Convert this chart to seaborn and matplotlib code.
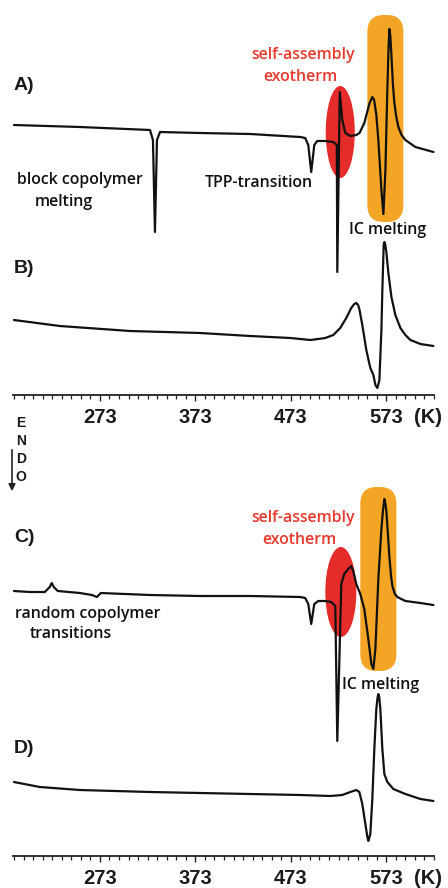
import numpy as np
import pandas as pd
import seaborn as sns
import matplotlib
matplotlib.use("Agg")
import matplotlib.pyplot as plt
from matplotlib.patches import Ellipse, FancyBboxPatch, FancyArrowPatch
from matplotlib.ticker import MultipleLocator, FixedLocator

# ---------------- data (temperature K, heat flow a.u.) ----------------
temp_A = [183, 252, 325.5, 328.6, 330.7, 332.8, 336, 378, 430.4, 482.9, 488.1, 491.3,
          494.4, 497.6, 500.7, 509.1, 517.5, 521.2, 521.7, 524.3, 526.9, 530.1, 535.3,
          541.6, 545, 550, 555.5, 558.4, 560.3, 562.6, 564.7, 567.9, 570, 572.1, 574.1,
          575.5, 576.2, 577.2, 578.4, 580, 581.5, 583.5, 585.7, 589, 593, 603.5, 622.4]
flow_A = [270, 268, 265, 255, 163, 255, 263, 262, 261, 258, 257, 250,
          223, 250, 254, 254, 253, 250, 123, 303, 275, 262, 259,
          260, 262, 272, 292, 298, 295, 280, 255, 205, 181, 225, 305,
          350, 366, 360, 340, 310, 292, 278, 268, 260, 255, 248, 243]

temp_B = [183, 231, 304.5, 378, 430.4, 472.4, 493.4, 501.8, 509.1, 517.5, 524.8, 531.1,
          536.3, 539.5, 541.6, 543.5, 544.8, 547.9, 552.1, 556.3, 559.5, 561.6, 563.7,
          565.8, 567.9, 568.9, 570.3, 571, 571.8, 573.1, 575.2, 578.4, 582.5, 587.8,
          593, 598.3, 608.8, 622.4]
flow_B = [75, 69, 64, 62, 59, 57, 55, 56, 57, 60, 67, 77,
          87, 91, 92, 90, 86, 70, 45, 27, 20, 10, 7,
          15, 65, 105, 150, 153, 151, 143, 122, 98, 80, 67,
          60, 55, 51, 49]

temp_C = [183, 199.5, 215.3, 220.5, 222.6, 224.7, 228.9, 252, 264.6, 269.9, 274, 325.5,
          378, 430.4, 482.9, 488.1, 491.3, 494.4, 497.6, 501.8, 509.1, 515.4, 519.6,
          521.7, 525.9, 529, 533.2, 536.3, 538.4, 541.6, 545.8, 550, 554.2, 557.4,
          559.5, 561.6, 564.7, 567.9, 569.5, 571, 572.2, 573.1, 574.5, 576.2, 578,
          579.4, 582, 584.6, 593, 608.8, 622.4]
flow_C = [265, 264, 264, 269, 273, 269, 265, 263, 261, 259, 263, 261,
          260, 260, 259, 258, 252, 232, 252, 255, 255, 254, 250,
          115, 272, 282, 287, 290, 285, 272, 262, 247, 217, 192,
          187, 207, 277, 327, 345, 357, 352, 345, 325, 300, 280,
          270, 262, 259, 255, 253, 251]

temp_D = [183, 210, 252, 325.5, 430.4, 482.9, 514.4, 526.9, 535.3, 541.6, 544.8, 547.9,
          551.1, 553.2, 554.2, 556.3, 558.4, 560.5, 562.6, 563.8, 564.7, 565.6, 566.8,
          568.9, 571, 574.1, 580.4, 593, 608.8, 622.4]
flow_D = [74, 69, 66, 64, 62, 61, 60, 61, 64, 66, 64, 52,
          32, 19, 15, 22, 57, 107, 147, 158, 162, 159, 147,
          107, 82, 74, 67, 62, 57, 55]

major_ticks = [273, 373, 473, 573]
tick_labels = ["273", "373", "473", "573"]

# ---------------- styling ----------------
sns.set_style("white")
plt.rcParams["font.family"] = ["Liberation Sans", "DejaVu Sans"]
ANN_FONT = ["Open Sans", "DejaVu Sans"]
RED = "#E62B2B"
RED_TXT = "#E8392E"
ORANGE = "#F5A526"
INK = "#111111"

fig = plt.figure(figsize=(4.48, 8.88), dpi=100)
W, H = 448.0, 888.0
ax_top = fig.add_axes([13 / W, 1 - 395 / H, 421 / W, 395 / H])
ax_bot = fig.add_axes([13 / W, 1 - 856 / H, 421 / W, 395 / H])

def setup(ax):
    ax.set_xlim(182, 623)
    ax.set_ylim(0, 395)
    for s in ["top", "left", "right"]:
        ax.spines[s].set_visible(False)
    ax.spines["bottom"].set_linewidth(1.3)
    ax.spines["bottom"].set_color("#222222")
    ax.set_yticks([])
    ax.xaxis.set_major_locator(FixedLocator(major_ticks))
    ax.set_xticklabels(tick_labels)
    ax.xaxis.set_minor_locator(MultipleLocator(10, offset=3))
    ax.tick_params(axis="x", which="major", direction="out", length=4, width=1.0,
                   color="#222222", pad=5, labelsize=14.5, bottom=True)
    ax.tick_params(axis="x", which="minor", direction="out", length=3, width=0.9,
                   color="#222222", bottom=True)
    for lab in ax.get_xticklabels():
        lab.set_fontweight("bold")
        lab.set_color("#1a1a1a")
    ax.patch.set_alpha(0)
    ax.annotate("(K)", xy=(617, 0), xycoords=("data", "axes fraction"),
                xytext=(0, -9), textcoords="offset points", ha="center", va="top",
                fontsize=14.5, fontweight="bold", color="#1a1a1a", annotation_clip=False)

setup(ax_top)
setup(ax_bot)

def draw_highlights(ax, ell_x, ell_y, ell_w, ell_h, rx0, rx1, ry0, ry1):
    ax.add_patch(Ellipse((ell_x, ell_y), ell_w, ell_h, facecolor=RED, edgecolor="none", zorder=1))
    ax.add_patch(FancyBboxPatch((rx0, ry0), rx1 - rx0, ry1 - ry0,
                                boxstyle="round,pad=0,rounding_size=17",
                                facecolor=ORANGE, edgecolor="none", zorder=1))

draw_highlights(ax_top, 524.8, 263, 30.4, 92, 553.2, 590.9, 173, 380)
draw_highlights(ax_bot, 525.4, 264, 32.5, 90, 545.8, 583.6, 185, 369)

def curve(ax, t, f):
    df = pd.DataFrame({"T": t, "Q": f})
    sns.lineplot(data=df, x="T", y="Q", ax=ax, sort=False, estimator=None,
                 color=INK, linewidth=1.6, zorder=3, clip_on=False)

curve(ax_top, temp_A, flow_A)
curve(ax_top, temp_B, flow_B)
curve(ax_bot, temp_C, flow_C)
curve(ax_bot, temp_D, flow_D)
for ax in (ax_top, ax_bot):
    ax.set_xlabel("")
    ax.set_ylabel("")

# ---------------- labels ----------------
def panel(ax, y, s):
    ax.text(183, y, s, fontsize=14, fontweight="bold", color="#1a1a1a", ha="left", va="center")

panel(ax_top, 310, "A)")
panel(ax_top, 127, "B)")
panel(ax_bot, 319, "C)")
panel(ax_bot, 108, "D)")

def ann(ax, x, y, s, color="#111111"):
    ax.text(x, y, s, fontsize=11.4, family=ANN_FONT, fontweight="semibold",
            color=color, ha="center", va="center")

ann(ax_top, 486, 340, "self-assembly", RED_TXT)
ann(ax_top, 483, 318, "exotherm", RED_TXT)
ann(ax_top, 252.5, 215, "block copolymer")
ann(ax_top, 235, 193, "melting")
ann(ax_top, 439.8, 212, "TPP-transition")
ann(ax_top, 574.7, 165, "IC melting")

ann(ax_bot, 485.5, 338, "self-assembly", RED_TXT)
ann(ax_bot, 482, 316, "exotherm", RED_TXT)
ann(ax_bot, 260.4, 242, "random copolymer")
ann(ax_bot, 242.6, 222, "transitions")
ann(ax_bot, 567.3, 171, "IC melting")

# ENDO direction marker
for i, ch in enumerate("ENDO"):
    fig.text(21 / W, 1 - (423 + 18 * i) / H, ch, fontsize=10, fontweight="bold",
             color="#1a1a1a", ha="center", va="center")
fig.patches.append(FancyArrowPatch(
    (12 / W, 1 - 447 / H), (12 / W, 1 - 494 / H), transform=fig.transFigure,
    arrowstyle="-|>,head_length=4,head_width=2", color="#222222", linewidth=1.2,
    mutation_scale=1))

fig.savefig("out.png", dpi=100, facecolor="white")
